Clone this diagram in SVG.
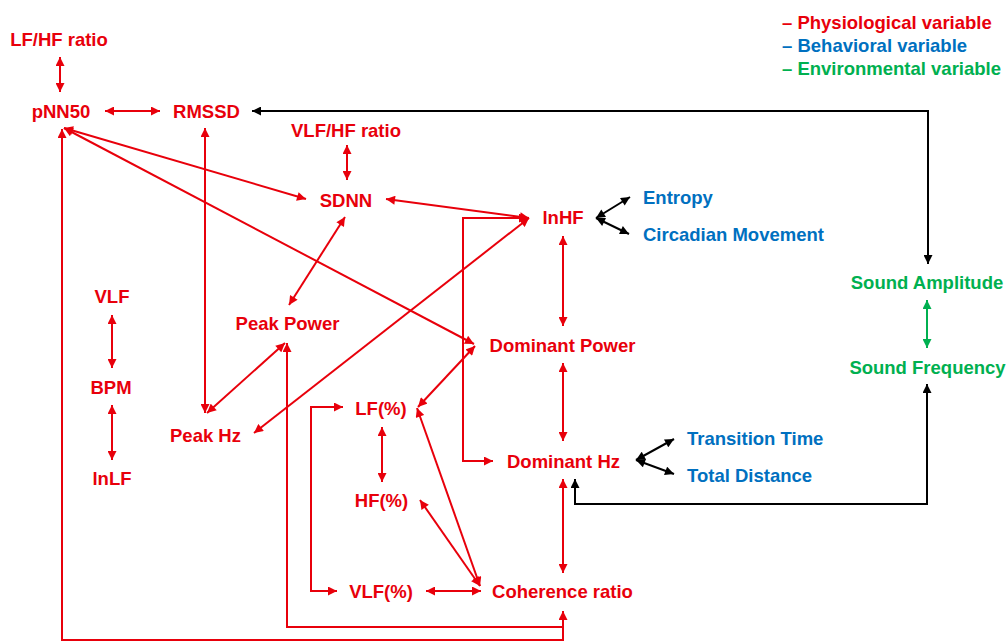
<svg xmlns="http://www.w3.org/2000/svg" width="1006" height="642" viewBox="0 0 1006 642">
<style>
text{font-family:"Liberation Sans",Arial,sans-serif;font-weight:bold;font-size:18.5px}
.r{fill:#e8000b}.b{fill:#0070c0}.g{fill:#00b050}
.c{text-anchor:middle}
.lr{fill:none;stroke:#e8000b;stroke-width:2;marker-start:url(#ar);marker-end:url(#ar)}
.lrs{fill:none;stroke:#e8000b;stroke-width:2;marker-start:url(#ar)}
.lre{fill:none;stroke:#e8000b;stroke-width:2;marker-end:url(#ar)}
.lk{fill:none;stroke:#000;stroke-width:2;marker-start:url(#ak);marker-end:url(#ak)}
.lg{fill:none;stroke:#00b050;stroke-width:2;marker-start:url(#ag);marker-end:url(#ag)}
</style>
<defs>
<marker id="ar" viewBox="0 0 10 10" refX="10" refY="5" markerWidth="10" markerHeight="9" markerUnits="userSpaceOnUse" orient="auto-start-reverse"><path d="M0,0L10,5L0,10z" fill="#e8000b"/></marker>
<marker id="ak" viewBox="0 0 10 10" refX="10" refY="5" markerWidth="10" markerHeight="9" markerUnits="userSpaceOnUse" orient="auto-start-reverse"><path d="M0,0L10,5L0,10z" fill="#000"/></marker>
<marker id="ag" viewBox="0 0 10 10" refX="10" refY="5" markerWidth="10" markerHeight="9" markerUnits="userSpaceOnUse" orient="auto-start-reverse"><path d="M0,0L10,5L0,10z" fill="#00b050"/></marker>
</defs>
<rect width="1006" height="642" fill="#fff"/>
<g id="connectors">
<path class="lr" d="M60,57V92"/>
<path class="lr" d="M105,111H160"/>
<path class="lr" d="M64,128L306,199"/>
<path class="lr" d="M64,128L474,344"/>
<path class="lr" d="M205,128V413"/>
<path class="lr" d="M347,145V180"/>
<path class="lr" d="M345,217L289,305"/>
<path class="lr" d="M386,199L529,218"/>
<path class="lr" d="M529,218L254,433"/>
<path class="lr" d="M285,343L207,413"/>
<path class="lr" d="M563,236V326"/>
<path class="lr" d="M563,363V441"/>
<path class="lr" d="M563,479V573"/>
<path class="lr" d="M475,346L418,407"/>
<path class="lr" d="M382,427V482"/>
<path class="lr" d="M417,408L480,586"/>
<path class="lr" d="M420,500L480,586"/>
<path class="lr" d="M426,591H481"/>
<path class="lr" d="M112,315V368"/>
<path class="lr" d="M112,405V460"/>
<path class="lr" d="M528,218H463V461H493"/>
<path class="lr" d="M343,407H311V591H337"/>
<path class="lrs" d="M287,343V627H563"/>
<path class="lrs" d="M62,129V640H563V627"/>
<path class="lre" d="M563,627V611"/>
<path class="lk" d="M252,111H928V264"/>
<path class="lk" d="M575,479V504H927V384"/>
<path class="lk" d="M596,218L630,197"/>
<path class="lk" d="M596,218L629,234"/>
<path class="lk" d="M636,460L674,439"/>
<path class="lk" d="M636,460L674,474"/>
<path class="lg" d="M927,300V348"/>
</g>
<g id="legend">
<text class="r" x="782" y="29">– Physiological variable</text>
<text class="b" x="782" y="52">– Behavioral variable</text>
<text class="g" x="782" y="75">– Environmental variable</text>
</g>
<g id="n-lfhf"><text class="r c" x="59" y="45.5">LF/HF ratio</text></g>
<g id="n-pnn50"><text class="r c" x="61" y="117.5">pNN50</text></g>
<g id="n-rmssd"><text class="r c" x="206.5" y="117.5">RMSSD</text></g>
<g id="n-vlfhf"><text class="r c" x="346" y="136.5">VLF/HF ratio</text></g>
<g id="n-sdnn"><text class="r c" x="346" y="206.5">SDNN</text></g>
<g id="n-lnhf"><text class="r c" x="563" y="223.5">lnHF</text></g>
<g id="n-entropy"><text class="b" x="643" y="203.5">Entropy</text></g>
<g id="n-circ"><text class="b" x="643" y="240.5">Circadian Movement</text></g>
<g id="n-samp"><text class="g c" x="927" y="288.5">Sound Amplitude</text></g>
<g id="n-sfreq"><text class="g c" x="927.5" y="373.5">Sound Frequency</text></g>
<g id="n-vlf"><text class="r c" x="112" y="302.5">VLF</text></g>
<g id="n-bpm"><text class="r c" x="111" y="393.5">BPM</text></g>
<g id="n-lnlf"><text class="r c" x="112" y="484.5">lnLF</text></g>
<g id="n-peakpower"><text class="r c" x="287.5" y="329.5">Peak Power</text></g>
<g id="n-dompower"><text class="r c" x="562.5" y="351.5">Dominant Power</text></g>
<g id="n-peakhz"><text class="r c" x="205.5" y="441.5">Peak Hz</text></g>
<g id="n-lfp"><text class="r c" x="381" y="414.5">LF(%)</text></g>
<g id="n-hfp"><text class="r c" x="381.5" y="506.5">HF(%)</text></g>
<g id="n-domhz"><text class="r c" x="563.5" y="467.5">Dominant Hz</text></g>
<g id="n-trans"><text class="b" x="687" y="444.5">Transition Time</text></g>
<g id="n-dist"><text class="b" x="687" y="481.5">Total Distance</text></g>
<g id="n-vlfp"><text class="r c" x="381" y="597.5">VLF(%)</text></g>
<g id="n-coh"><text class="r c" x="562.5" y="597.5">Coherence ratio</text></g>
</svg>
